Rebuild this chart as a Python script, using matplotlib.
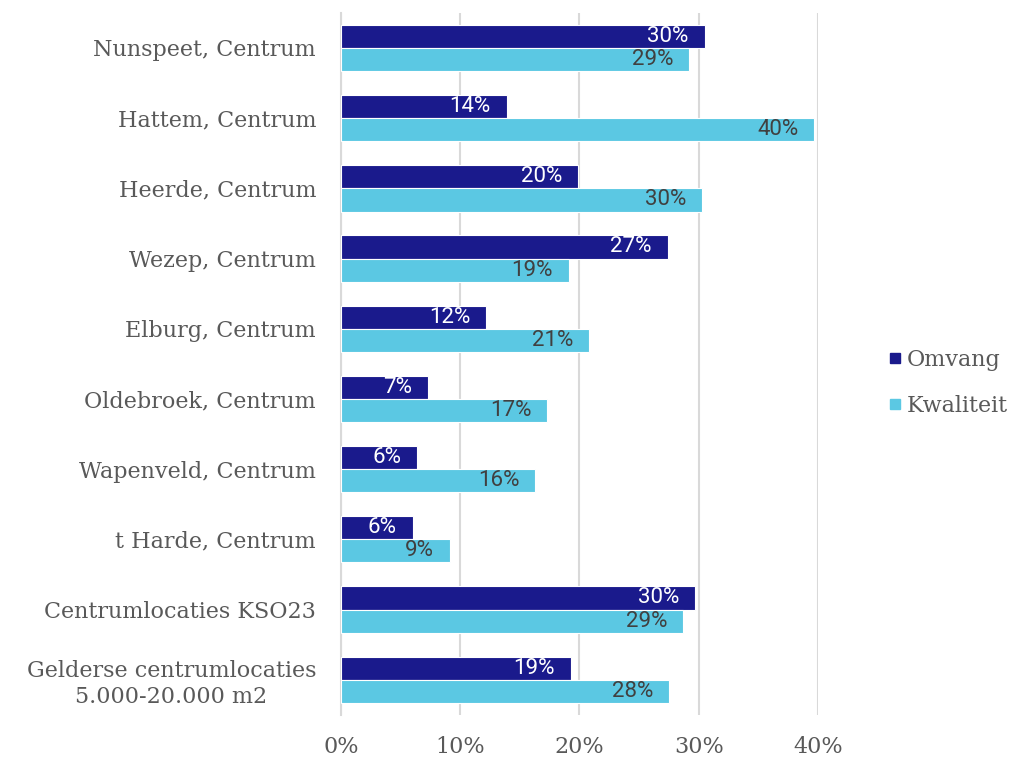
import matplotlib.pyplot as plt
import numpy as np
from matplotlib.lines import Line2D

categories = [
    "Nunspeet, Centrum",
    "Hattem, Centrum",
    "Heerde, Centrum",
    "Wezep, Centrum",
    "Elburg, Centrum",
    "Oldebroek, Centrum",
    "Wapenveld, Centrum",
    "t Harde, Centrum",
    "Centrumlocaties KSO23",
    "Gelderse centrumlocaties\n5.000-20.000 m2",
]
omvang = [0.305, 0.139, 0.199, 0.274, 0.122, 0.073, 0.064, 0.060, 0.297, 0.193]
kwaliteit = [0.292, 0.397, 0.303, 0.191, 0.208, 0.173, 0.163, 0.091, 0.287, 0.275]
series_names = ["Omvang", "Kwaliteit"]
colors = ["#1a1a8c", "#5bc8e3"]
label_colors = ["white", "#404040"]
ticks = [0, 0.1, 0.2, 0.3, 0.4]
tick_labels = ["0%", "10%", "20%", "30%", "40%"]

text_gray = "#595959"
serif = ["DejaVu Serif"]

fig = plt.figure(figsize=(10.18, 7.58), dpi=100)
ax = fig.add_axes([0.335, 0.057, 0.4685, 0.926])

y = np.arange(len(categories))
h = 0.33
for i, vals in enumerate([omvang, kwaliteit]):
    pos = y - h / 2 + i * h
    bars = ax.barh(pos, vals, height=h, color=colors[i], edgecolor="white",
                   linewidth=0.8, zorder=3)
    for b, v in zip(bars, vals):
        ax.annotate(f"{v * 100:.0f}%", (v, b.get_y() + b.get_height() / 2),
                    xytext=(-11.5, 0), textcoords="offset points",
                    ha="right", va="center", fontsize=16,
                    family=["Roboto", "DejaVu Sans"], color=label_colors[i],
                    zorder=4)

ax.set_ylim(len(categories) - 0.5, -0.5)
ax.set_xlim(0, 0.4)
ax.set_xticks(ticks)
ax.set_xticklabels(tick_labels, family=serif, fontsize=16, color=text_gray)
ax.set_yticks(y)
ax.set_yticklabels(categories, family=serif, fontsize=16, color=text_gray,
                   multialignment="center")
ax.tick_params(length=0)
ax.tick_params(axis="y", pad=18)
ax.tick_params(axis="x", pad=15)
ax.grid(axis="x", color="#d9d9d9", linewidth=1.5, zorder=0)
for s in ["top", "right", "bottom"]:
    ax.spines[s].set_visible(False)
ax.spines["left"].set_color("#d9d9d9")
ax.spines["left"].set_linewidth(1.5)

handles = [Line2D([], [], marker="s", linestyle="none", markersize=7.5,
                  markerfacecolor=c, markeredgecolor=c) for c in colors]
fig.legend(handles, series_names, loc="center left",
           bbox_to_anchor=(0.851, 0.495), frameon=False,
           prop={"family": serif, "size": 16}, labelcolor=text_gray,
           handletextpad=0.1, labelspacing=1.1, handlelength=0.8)

fig.savefig("out.png", dpi=100)
